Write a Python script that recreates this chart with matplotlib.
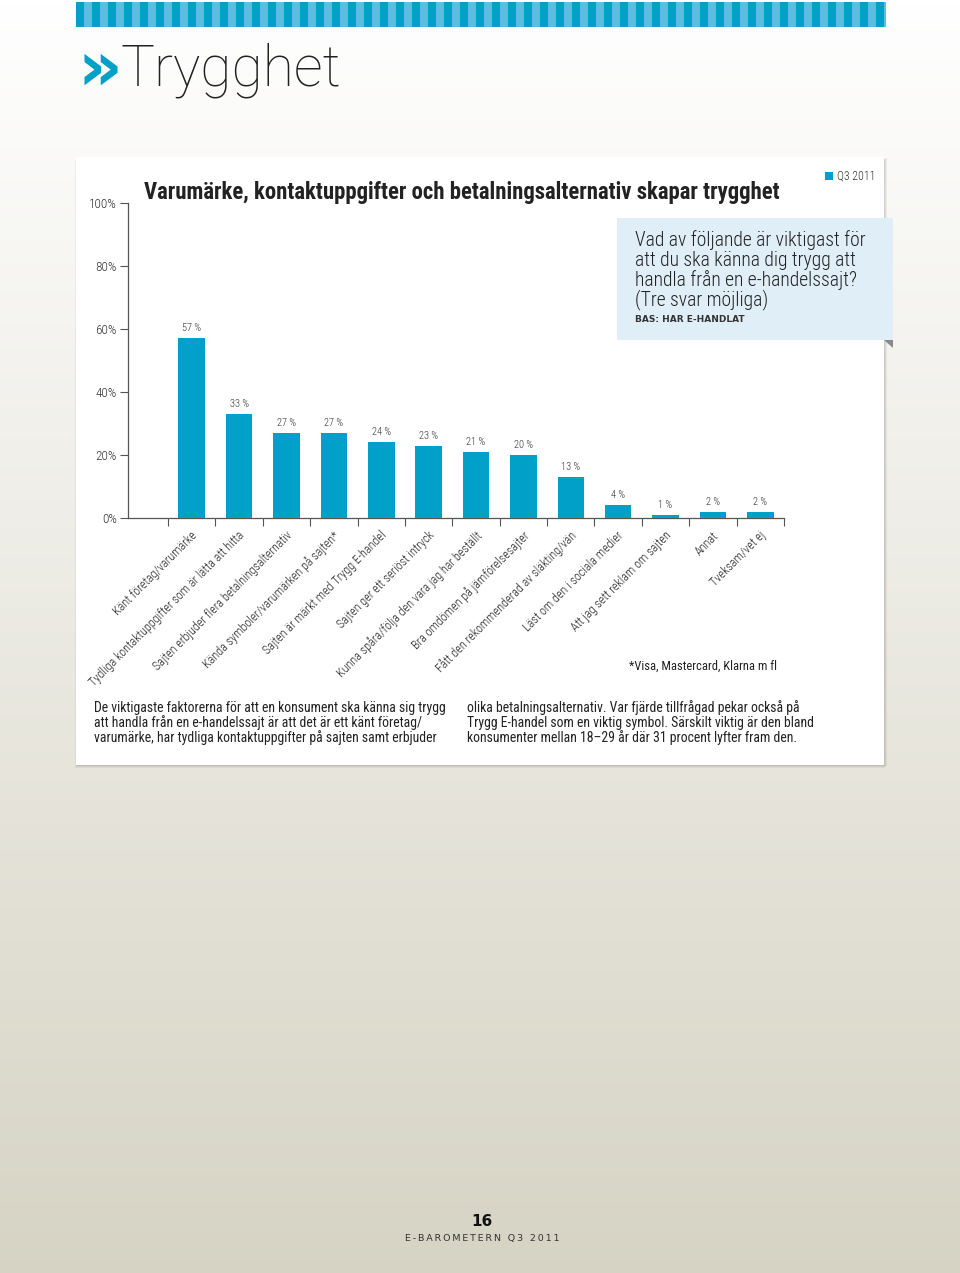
import numpy as np
import matplotlib
matplotlib.use("Agg")
import matplotlib.pyplot as plt
from matplotlib import font_manager
from matplotlib.patches import Rectangle, Polygon

names = sorted({f.name for f in font_manager.fontManager.ttflist})

def pick(*cands):
    for c in cands:
        if c in names:
            return c
    return "DejaVu Sans"

NARROW = pick("Roboto Condensed", "Liberation Sans Narrow", "DejaVu Sans")

# data
categories = [
    "Känt företag/varumärke",
    "Tydliga kontaktuppgifter som är lätta att hitta",
    "Sajten erbjuder flera betalningsalternativ",
    "Kända symboler/varumärken på sajten*",
    "Sajten är märkt med Trygg E-handel",
    "Sajten ger ett seriöst intryck",
    "Kunna spåra/följa den vara jag har beställt",
    "Bra omdömen på jämförelsesajter",
    "Fått den rekommenderad av släkting/vän",
    "Läst om den i sociala medier",
    "Att jag sett reklam om sajten",
    "Annat",
    "Tveksam/vet ej",
]
values = [57, 33, 27, 27, 24, 23, 21, 20, 13, 4, 1, 2, 2]
yticks = [0, 20, 40, 60, 80, 100]
series_name = "Q3 2011"

BLUE = "#00a0c8"
W, H = 960, 1273
fig = plt.figure(figsize=(9.6, 12.73), dpi=100)

def fx(px):
    return px / W

def fy(py):
    return 1 - py / H

# background gradient
bg = fig.add_axes([0, 0, 1, 1], zorder=-10)
grad = np.linspace(0, 1, 256).reshape(-1, 1)
top = np.array([1.0, 1.0, 1.0])
bot = np.array([0.84, 0.83, 0.77])
img = top + (bot - top) * grad[..., None]
bg.imshow(img, aspect="auto", extent=[0, 1, 0, 1])
bg.set_xlim(0, 1)
bg.set_ylim(0, 1)
bg.axis("off")

# top stripes
x = 76
i = 0
while x < 886:
    c = BLUE if i % 2 == 0 else "#5bbde0"
    fig.patches.append(Rectangle((fx(x), fy(27)), fx(min(8, 886 - x)), 25 / H,
                                 transform=fig.transFigure, color=c, lw=0))
    x += 8
    i += 1

# header
fig.text(fx(77), fy(70), "»", color=BLUE, fontsize=50, fontweight="bold",
         va="center", ha="left", family="DejaVu Sans")
fig.text(fx(121), fy(70), "Trygghet", color="#222222", fontsize=41,
         fontweight=100, va="center", ha="left", family=pick("Roboto", "Lato"))

# card with shadow
for k, a in enumerate([0.05, 0.05, 0.06]):
    fig.patches.append(Rectangle((fx(76 - 1 + k), fy(765 + 3 - k)), fx(810), 608 / H,
                                 transform=fig.transFigure, color="black", alpha=a, lw=0,
                                 zorder=0))
fig.patches.append(Rectangle((fx(76), fy(765)), fx(808), 608 / H,
                             transform=fig.transFigure, color="white", lw=0, zorder=0))

# question box
fig.patches.append(Polygon([(fx(884), fy(340)), (fx(893), fy(340)), (fx(893), fy(348))],
                           closed=True, transform=fig.transFigure, color="#8a8a8a", lw=0))
fig.patches.append(Rectangle((fx(617), fy(340)), fx(276), 122 / H,
                             transform=fig.transFigure, color="#e0eef8", lw=0, zorder=2))

# chart axes
ax = fig.add_axes([fx(128), fy(518), fx(784 - 128), (518 - 203) / H])
ax.set_zorder(5)
ax.patch.set_alpha(0)
pos = np.arange(len(values))
ax.bar(pos, values, width=0.56, color=BLUE, zorder=3)
for p, v in zip(pos, values):
    ax.text(p, v + 1.6, f"{v} %", ha="center", va="bottom", fontsize=7.5,
            color="#333333", family=NARROW, fontweight="light")
left = -0.5 - 40 / 47.3
ax.set_xlim(left, len(values) - 0.5)
ax.set_ylim(0, 100)
ax.set_xticks(np.arange(-0.5, len(values)))
ax.set_xticklabels([])
ax.set_yticks(yticks)
ax.set_yticklabels([f"{t}%" for t in yticks], family=NARROW, fontsize=9.5, color="#333333",
                   fontweight="light")
ax.tick_params(axis="both", length=6, width=0.8, color="#555555", direction="out", pad=2)
for s in ["top", "right"]:
    ax.spines[s].set_visible(False)
for s in ["left", "bottom"]:
    ax.spines[s].set_color("#555555")
    ax.spines[s].set_linewidth(0.9)
for p, lab in zip(pos, categories):
    ax.text(p - 0.02, -3.5, lab, rotation=45, rotation_mode="anchor", ha="right", va="top",
            fontsize=8.7, color="#222222", family=NARROW, fontweight="light")

# title and legend
fig.text(fx(144), fy(193), "Varumärke, kontaktuppgifter och betalningsalternativ skapar trygghet",
         fontsize=16.4, fontweight="bold", va="center", ha="left", color="#222222", family=NARROW)
fig.patches.append(Rectangle((fx(825), fy(180)), fx(8), 8 / H, transform=fig.transFigure,
                             color=BLUE, lw=0))
fig.text(fx(837), fy(176), series_name, fontsize=8.5, va="center", ha="left",
         color="#333333", family=NARROW, fontweight="light")

q_lines = ["Vad av följande är viktigast för", "att du ska känna dig trygg att",
           "handla från en e-handelssajt?", "(Tre svar möjliga)"]
for k, ln in enumerate(q_lines):
    fig.text(fx(635), fy(240 + 20 * k), ln, fontsize=14.1, va="center", ha="left",
             color="#222222", family=NARROW, fontweight="light", zorder=3)
fig.text(fx(635), fy(319), "BAS: HAR E-HANDLAT", fontsize=6.5, fontweight="bold",
         va="center", ha="left", color="#333333", zorder=3)

fig.text(fx(777), fy(666), "*Visa, Mastercard, Klarna m fl", fontsize=9, va="center",
         ha="right", color="#222222", family=NARROW)

left_col = ["De viktigaste faktorerna för att en konsument ska känna sig trygg",
            "att handla från en e-handelssajt är att det är ett känt företag/",
            "varumärke, har tydliga kontaktuppgifter på sajten samt erbjuder"]
right_col = ["olika betalningsalternativ. Var fjärde tillfrågad pekar också på",
             "Trygg E-handel som en viktig symbol. Särskilt viktig är den bland",
             "konsumenter mellan 18–29 år där 31 procent lyfter fram den."]
for k, ln in enumerate(left_col):
    fig.text(fx(94), fy(708 + 15 * k), ln, fontsize=9.9, va="center", ha="left",
             color="#222222", family=NARROW)
for k, ln in enumerate(right_col):
    fig.text(fx(467), fy(708 + 15 * k), ln, fontsize=9.9, va="center", ha="left",
             color="#222222", family=NARROW)

# footer
fig.text(fx(482), fy(1222), "16", fontsize=11, fontweight="bold", ha="center",
         va="center", color="#111111")
fig.text(fx(482), fy(1238), "\u2009".join("E-BAROMETERN Q3 2011"), fontsize=6.8,
         ha="center", va="center", color="#333333")

fig.savefig("out.png", dpi=100)
